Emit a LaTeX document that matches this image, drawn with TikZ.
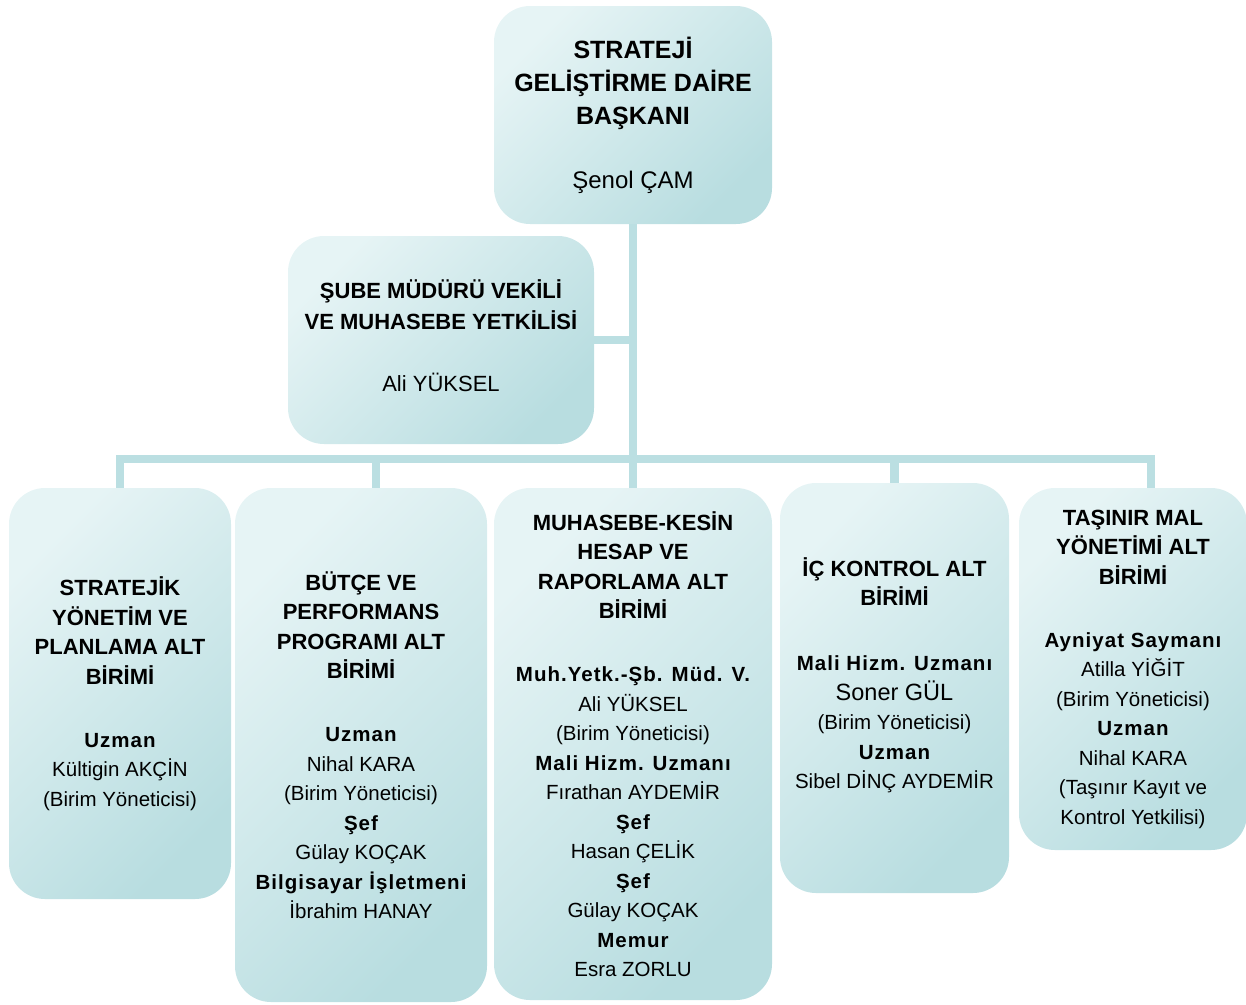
\documentclass[tikz,border=0pt]{standalone}
\usepackage{fontspec}
\setmainfont{Liberation Sans}
\newfontfamily\rolefont[LetterSpace=5]{Liberation Sans}

\definecolor{boxlight}{HTML}{E6F4F5}
\definecolor{boxdark}{HTML}{B8DDE0}
\definecolor{linkblue}{HTML}{BBDFE2}

\newcommand{\hd}[1]{{\fontsize{22}{29.5}\selectfont\bfseries #1}}
\newcommand{\rol}[1]{{\rolefont\bfseries #1}}

\begin{document}
\begin{tikzpicture}[x=1pt, y=-1pt,
    unit/.style={rounded corners=36pt, top color=boxlight, bottom color=boxdark, shading angle=45, align=center, inner sep=0pt},
    birim/.style={unit, font=\fontsize{20.5}{29.5}\selectfont},
    link/.style={draw=linkblue, line width=8.5pt}]
        \useasboundingbox (0,0) rectangle (1246,1004);
        \node[unit, minimum width=278pt, minimum height=218pt, font=\fontsize{25}{33}\selectfont] (daire) at (633,115) {\textbf{STRATEJİ}\\\textbf{GELİŞTİRME DAİRE}\\\textbf{BAŞKANI}\\[31pt]{\fontsize{24}{33}\selectfont Şenol ÇAM}};
        \node[unit, minimum width=306pt, minimum height=208pt, font=\fontsize{22}{31}\selectfont] (sube) at (441,340) {\textbf{ŞUBE MÜDÜRÜ VEKİLİ}\\\textbf{VE MUHASEBE YETKİLİSİ}\\[31pt]Ali YÜKSEL\\[-23pt]\mbox{}};
        \node[birim, minimum width=222pt, minimum height=411pt] (b1) at (120,693.5) {\hd{STRATEJİK}\\\hd{YÖNETİM VE}\\\hd{PLANLAMA ALT}\\\hd{BİRİMİ}\\[33.5pt]\rol{Uzman}\\Kültigin AKÇİN\\(Birim Yöneticisi)};
        \node[birim, minimum width=252pt, minimum height=514pt] (b2) at (361,745) {\hd{BÜTÇE VE}\\\hd{PERFORMANS}\\\hd{PROGRAMI ALT}\\\hd{BİRİMİ}\\[33.5pt]\rol{Uzman}\\Nihal KARA\\(Birim Yöneticisi)\\\rol{Şef}\\Gülay KOÇAK\\\rol{Bilgisayar İşletmeni}\\İbrahim HANAY};
        \node[birim, minimum width=278pt, minimum height=512pt] (b3) at (633,744) {\hd{MUHASEBE-KESİN}\\\hd{HESAP VE}\\\hd{RAPORLAMA ALT}\\\hd{BİRİMİ}\\[33.5pt]\rol{Muh.Yetk.-Şb. Müd. V.}\\Ali YÜKSEL\\(Birim Yöneticisi)\\\rol{Mali Hizm. Uzmanı}\\Fırathan AYDEMİR\\\rol{Şef}\\Hasan ÇELİK\\\rol{Şef}\\Gülay KOÇAK\\\rol{Memur}\\Esra ZORLU};
        \node[birim, minimum width=229pt, minimum height=410pt] (b4) at (894.5,688) {\hd{İÇ KONTROL ALT}\\\hd{BİRİMİ}\\[35.5pt]\rol{Mali Hizm. Uzmanı}\\{\fontsize{23.5}{29.5}\selectfont Soner GÜL}\\(Birim Yöneticisi)\\\rol{Uzman}\\Sibel DİNÇ AYDEMİR\\\mbox{}};
        \node[birim, minimum width=228pt, minimum height=362pt] (b5) at (1133,669) {\hd{TAŞINIR MAL}\\\hd{YÖNETİMİ ALT}\\\hd{BİRİMİ}\\[33.5pt]\rol{Ayniyat Saymanı}\\Atilla YİĞİT\\(Birim Yöneticisi)\\\rol{Uzman}\\Nihal KARA\\(Taşınır Kayıt ve\\Kontrol Yetkilisi)};
        \coordinate (d2) at (376,459);
        \coordinate (d5) at (1151,459);
        \draw[link] (daire) -- (b3);
        \draw[link] (sube) -- (sube -| daire.south);
        \draw[link] (b1) |- (d5) -- (d5 |- b5.north);
        \draw[link] (d2) -- (d2 |- b2.north);
        \draw[link] (b4) -- (b4 |- d5);
    \end{tikzpicture}
\end{document}
